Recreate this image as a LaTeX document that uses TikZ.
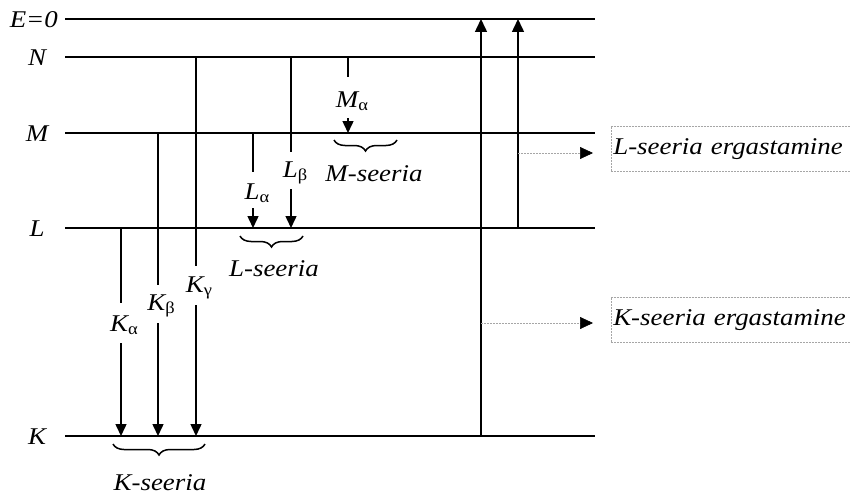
\documentclass[tikz,border=0pt]{standalone}
\usepackage{fontspec}
\setmainfont{Liberation Serif}[FakeStretch=1.12]
\usetikzlibrary{arrows.meta,decorations.pathreplacing}
% upright Greek subscript for line names
\newcommand\lsub[1]{\raisebox{-2.5pt}{\fontsize{16.5}{18}\selectfont\upshape #1}}
\begin{document}
\begin{tikzpicture}[x=1pt,y=-1pt,
  every node/.style={font=\fontsize{24}{28}\selectfont\itshape, inner sep=0pt},
  level/.style={line width=1.8pt},
  trans/.style={line width=1.5pt},
  tipdown/.style={trans,-{Triangle[length=12pt,width=11pt]}},
  seriesbrace/.style={line width=1.5pt,decorate,decoration={brace,amplitude=11pt}},
  branch/.style={gray!70,line width=0.6pt,dash pattern=on 2pt off 1pt,
    -{Triangle[length=13pt,width=12pt,black]},shorten >=18pt},
  seriesbox/.style={draw=gray!70,line width=0.6pt,dash pattern=on 2pt off 1pt,
    text width=240pt,align=left,inner xsep=2pt,minimum height=45pt,anchor=north west}]
\useasboundingbox (0,0) rectangle (850,495);

% energy levels
\foreach \n/\y in {E/19,N/57,M/133,L/228,K/436}{
  \coordinate (\n a) at (65,\y);
  \coordinate (\n b) at (595,\y);
  \draw[level] (\n a) -- (\n b);
}
\node[anchor=east] (labE) at (58,20) {E=0};
\node (labN) at (37,58) {N};
\node (labM) at (37,134) {M};
\node (labL) at (37,229) {L};
\node (labK) at (37,437) {K};

% K series
\coordinate (kaS) at (121,228); \coordinate (kaA) at (121,303);
\coordinate (kaB) at (121,343); \coordinate (kaE) at (121,436);
\node (ka) at (124,325) {K\lsub{α}};
\draw[trans] (kaS) -- (kaA);
\draw[tipdown] (kaB) -- (kaE);

\coordinate (kbS) at (158,133); \coordinate (kbA) at (158,285);
\coordinate (kbB) at (158,323); \coordinate (kbE) at (158,436);
\node (kb) at (161,306) {K\lsub{β}};
\draw[trans] (kbS) -- (kbA);
\draw[tipdown] (kbB) -- (kbE);

\coordinate (kgS) at (196,57); \coordinate (kgA) at (196,266);
\coordinate (kgB) at (196,305); \coordinate (kgE) at (196,436);
\node (kg) at (199,288) {K\lsub{γ}};
\draw[trans] (kgS) -- (kgA);
\draw[tipdown] (kgB) -- (kgE);

% L series
\coordinate (laS) at (253,133); \coordinate (laA) at (253,172);
\coordinate (laB) at (253,208); \coordinate (laE) at (253,228);
\node (la) at (257,193) {L\lsub{α}};
\draw[trans] (laS) -- (laA);
\draw[tipdown] (laB) -- (laE);

\coordinate (lbS) at (291,57); \coordinate (lbA) at (291,152);
\coordinate (lbB) at (291,189); \coordinate (lbE) at (291,228);
\node (lb) at (295,173) {L\lsub{β}};
\draw[trans] (lbS) -- (lbA);
\draw[tipdown] (lbB) -- (lbE);

% M series
\coordinate (maS) at (348,57); \coordinate (maA) at (348,77);
\coordinate (maB) at (348,118); \coordinate (maE) at (348,133);
\node (ma) at (352,101) {M\lsub{α}};
\draw[trans] (maS) -- (maA);
\draw[tipdown] (maB) -- (maE);

% series braces
\coordinate (kbr1) at (205,444); \coordinate (kbr2) at (113,444);
\draw[seriesbrace] (kbr1) -- (kbr2);
\node (kser) at (160,483) {K-seeria};
\coordinate (lbr1) at (303,236); \coordinate (lbr2) at (240,236);
\draw[seriesbrace] (lbr1) -- (lbr2);
\node (lser) at (274,269) {L-seeria};
\coordinate (mbr1) at (397,140); \coordinate (mbr2) at (334,140);
\draw[seriesbrace] (mbr1) -- (mbr2);
\node (mser) at (374,174) {M-seeria};

% ionisation
\coordinate (ikS) at (481,436); \coordinate (ikE) at (481,19);
\coordinate (ilS) at (518,228); \coordinate (ilE) at (518,19);
\draw[trans,-{Triangle[length=13pt,width=12pt]}] (ikS) -- (ikE);
\draw[trans,-{Triangle[length=13pt,width=12pt]}] (ilS) -- (ilE);

% excitation boxes
\node[seriesbox] (lbox) at (611,126) {L-seeria ergastamine};
\node[seriesbox] (kbox) at (611,297) {K-seeria ergastamine};
\coordinate (ilB) at (518,153);
\coordinate (ikB) at (481,323);
\draw[branch] (ilB) -- (ilB -| lbox.west);
\draw[branch] (ikB) -- (ikB -| kbox.west);
\end{tikzpicture}
\end{document}
